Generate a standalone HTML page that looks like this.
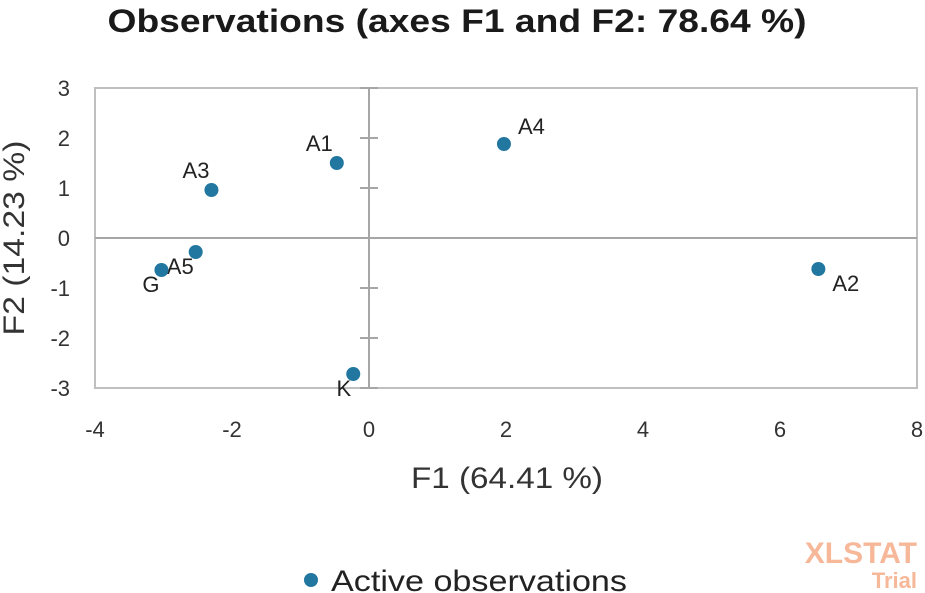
<!DOCTYPE html>
<html><head><meta charset="utf-8"><style>
html,body{margin:0;padding:0;background:#fff;}
svg{display:block;font-family:"Liberation Sans",Arial,sans-serif;}
</style></head><body>
<svg id="chart" width="925" height="593" viewBox="0 0 925 593">
<text x="457" y="32" text-anchor="middle" font-size="32" font-weight="bold" fill="#1a1a1a" textLength="699" lengthAdjust="spacingAndGlyphs">Observations (axes F1 and F2: 78.64 %)</text>
<rect x="95" y="88" width="822" height="300" fill="none" stroke="#bfbfbf" stroke-width="2"/>
<g id="axes"></g>
<g id="points"></g>
<text x="507" y="488" text-anchor="middle" font-size="30" fill="#333" textLength="192" lengthAdjust="spacingAndGlyphs">F1 (64.41 %)</text>
<text transform="translate(24,238) rotate(-90)" text-anchor="middle" font-size="30" fill="#333" textLength="195" lengthAdjust="spacingAndGlyphs">F2 (14.23 %)</text>
<circle cx="311" cy="580" r="7" fill="#2277a0"/>
<text x="331" y="591" font-size="30" fill="#222" textLength="296" lengthAdjust="spacingAndGlyphs">Active observations</text>
<text x="917" y="563" text-anchor="end" font-size="30" font-weight="bold" fill="#f6b899">XLSTAT</text>
<text x="917" y="588" text-anchor="end" font-size="22" font-weight="bold" fill="#f6b899">Trial</text>
</svg>
<script>
const labels=["A1","A2","A3","A4","A5","G","K"];
const f1=[-0.47,6.56,-2.30,1.97,-2.53,-3.03,-0.23];
const f2=[1.50,-0.62,0.96,1.88,-0.28,-0.64,-2.72];
const xTicks=[-4,-2,0,2,4,6,8];
const yTicks=[-3,-2,-1,0,1,2,3];
const labelPos={A1:[-4,-12,"end"],A2:[14,22,"start"],A3:[-2,-12,"end"],A4:[14,-10,"start"],A5:[-2,22,"end"],G:[-2,22,"end"],K:[-2,22,"end"]};
const NS="http://www.w3.org/2000/svg";
const X0=95,X1=917,Y0=388,Y1=88;
const sx=v=>X0+(v-(-4))/(8-(-4))*(X1-X0);
const sy=v=>Y0-(v-(-3))/(3-(-3))*(Y0-Y1);
function mk(tag,attrs,parent){const e=document.createElementNS(NS,tag);for(const k in attrs)e.setAttribute(k,attrs[k]);parent.appendChild(e);return e;}
const ax=document.getElementById('axes');
let l=mk('line',{x1:sx(0),x2:sx(0),y1:Y1,y2:Y0,stroke:'#a6a6a6','stroke-width':2},ax);


l=mk('line',{x1:X0,x2:X1,y1:sy(0),y2:sy(0),stroke:'#a6a6a6','stroke-width':2},ax);


yTicks.forEach(t=>{
 const tk=mk('line',{x1:sx(0)-9,x2:sx(0)+9,y1:sy(t),y2:sy(t),stroke:'#a6a6a6','stroke-width':2},ax);
 
 
 const tx=mk('text',{x:70,y:sy(t)+8,'text-anchor':'end','font-size':22,fill:'#333'},ax);
 tx.textContent=t;
 
 
});
xTicks.forEach(t=>{
 const tx=mk('text',{x:sx(t),y:437,'text-anchor':'middle','font-size':22,fill:'#333'},ax);
 tx.textContent=t;
 
 
});
const pg=document.getElementById('points');
labels.forEach((n,i)=>{
 const x=sx(f1[i]),y=sy(f2[i]);
 const c=mk('circle',{cx:x,cy:y,r:7,fill:'#2277a0'},pg);
 
 
 const p=labelPos[n];
 const t=mk('text',{x:x+p[0],y:y+p[1],'text-anchor':p[2],'font-size':22,fill:'#222'},pg);
 t.textContent=n;
 
 
});
</script>
</body></html>
